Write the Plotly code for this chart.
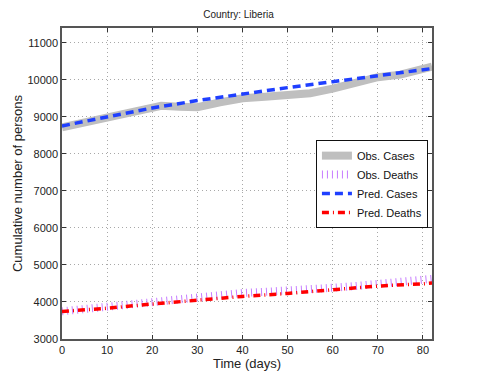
import plotly.graph_objects as go

obs_days = [0, 5, 10, 15, 20, 22, 26, 30, 35, 40, 45, 50, 55, 60, 65, 70, 75, 80, 82]
obs_cases = [8720, 8850, 8980, 9110, 9250, 9300, 9275, 9260, 9390, 9500, 9540, 9590,
             9640, 9760, 9900, 10070, 10140, 10260, 10360]
obs_deaths = [3748, 3815, 3884, 3950, 4018, 4040, 4090, 4143, 4200, 4243, 4275, 4300,
              4340, 4384, 4430, 4481, 4535, 4590, 4625]

pred_days = [0, 10, 20, 30, 40, 50, 60, 70, 80, 82]
pred_cases = [8755, 9005, 9240, 9440, 9625, 9790, 9950, 10110, 10265, 10305]
pred_deaths = [3745, 3830, 3945, 4054, 4150, 4230, 4335, 4430, 4490, 4510]

x_ticks = list(range(0, 81, 10))
y_ticks = list(range(3000, 11001, 1000))
y_labels = [str(v) for v in y_ticks]

FONT = "Liberation Sans, Arial, sans-serif"

fig = go.Figure()
fig.add_trace(go.Scatter(
    x=obs_days, y=obs_cases, mode="lines", name="Obs. Cases",
    line=dict(color="#bfbfbf", width=8),
))
fig.add_trace(go.Scatter(
    x=obs_days, y=obs_deaths, mode="lines", name="Obs. Deaths",
    line=dict(color="#c77dff", width=8, dash="1px,4px"),
))
fig.add_trace(go.Scatter(
    x=pred_days, y=pred_cases, mode="lines", name="Pred. Cases",
    line=dict(color="#1f3fff", width=3.5, dash="8px,5px"),
))
fig.add_trace(go.Scatter(
    x=pred_days, y=pred_deaths, mode="lines", name="Pred. Deaths",
    line=dict(color="#ff0000", width=3.5, dash="7px,4px,1px,4px"),
))

axis_common = dict(
    showline=True, linecolor="#555555", linewidth=1.5, mirror="ticks",
    ticks="inside", ticklen=4, tickcolor="#333333",
    showgrid=True, gridcolor="#a8a8a8", gridwidth=1, griddash="1px,3px",
    zeroline=False, tickfont=dict(size=11, color="#222222"),
    automargin=False,
)

fig.update_xaxes(
    range=[0, 82], tickvals=x_ticks,
    title=dict(text="Time (days)", font=dict(size=13, color="#222222"), standoff=2),
    **axis_common,
)
fig.update_yaxes(
    range=[3000, 11400], tickvals=y_ticks, ticktext=y_labels,
    title=dict(text="Cumulative number of persons", font=dict(size=13, color="#222222"), standoff=2),
    **axis_common,
)

# page body has an 8px margin, so the figure is sized to fit inside the window
fig.update_layout(
    width=461, height=366,
    margin=dict(l=54, r=37, t=20, b=35),
    paper_bgcolor="white", plot_bgcolor="white",
    font=dict(family=FONT, color="#222222"),
    title=dict(text="Country: Liberia", font=dict(size=10, color="#222222"),
               x=0.5, xanchor="center", y=0.992, yanchor="top"),
    showlegend=True,
    legend=dict(
        x=0.989, xanchor="right", y=0.498, yanchor="middle",
        bgcolor="white", bordercolor="#111111", borderwidth=1,
        font=dict(size=11, color="#111111"), tracegroupgap=0,
        itemwidth=30,
    ),
)

fig.write_html("out.html")
